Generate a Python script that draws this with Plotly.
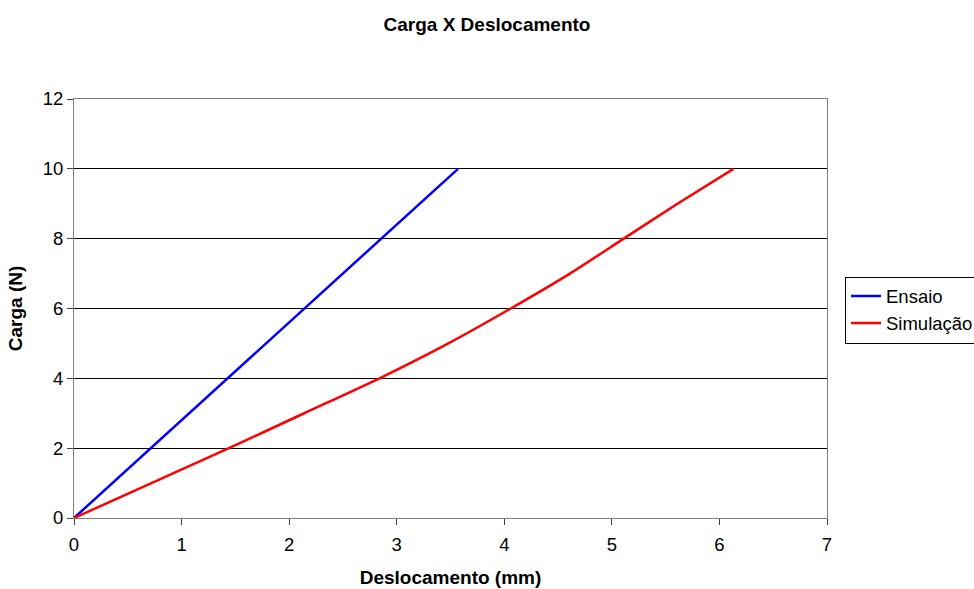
import plotly.graph_objects as go

ensaio_x = [0, 3.57]
ensaio_y = [0, 10]

sim_x = [0, 0.72, 1.44, 2.14, 2.84, 3.48, 4.06, 4.61, 5.11, 5.61, 6.13]
sim_y = [0, 1, 2, 3, 4, 5, 6, 7, 8, 9, 10]

font = "Liberation Sans, Arial, sans-serif"

fig = go.Figure()
fig.add_trace(go.Scatter(x=ensaio_x, y=ensaio_y, mode="lines", name="Ensaio",
                         line=dict(color="#0000FF", width=2.5)))
fig.add_trace(go.Scatter(x=sim_x, y=sim_y, mode="lines", name="Simulação",
                         line=dict(color="#FF0000", width=2.5, shape="spline", smoothing=0.6)))

fig.update_layout(
    width=974, height=589,
    margin=dict(l=74, r=147, t=99, b=71),
    paper_bgcolor="white", plot_bgcolor="white",
    font=dict(family=font, size=16, color="black"),
    title=dict(text="<b>Carga X Deslocamento</b>", x=0.5, xanchor="center",
               y=0.959, yanchor="middle", font=dict(size=19)),
    legend=dict(xref="container", yref="container", x=845 / 974, y=1 - 310 / 589,
                xanchor="left", yanchor="middle",
                bordercolor="black", borderwidth=1, bgcolor="white",
                font=dict(size=18.5), tracegroupgap=0, itemwidth=30),
    showlegend=True,
)
fig.update_xaxes(range=[0, 7], dtick=1, showgrid=False, zeroline=False,
                 showline=True, linecolor="#808080", linewidth=1, mirror=True,
                 ticks="outside", ticklen=6, tickcolor="#404040", automargin=False,
                 tickfont=dict(size=18.5), ticklabelstandoff=4,
                 title=dict(text="<b>Deslocamento (mm)</b>", standoff=16, font=dict(size=19)))
fig.update_yaxes(range=[0, 12], dtick=2, showgrid=True, gridcolor="black", gridwidth=1,
                 zeroline=False, showline=True, linecolor="#808080", linewidth=1, mirror=True,
                 ticks="outside", ticklen=6, tickcolor="#404040", automargin=False,
                 tickfont=dict(size=18.5),
                 title=dict(text="<b>Carga (N)</b>", standoff=15, font=dict(size=19)))

fig.write_html("out.html", config={"displayModeBar": False},
               post_script="document.body.style.margin='0';document.body.style.overflow='hidden';")
